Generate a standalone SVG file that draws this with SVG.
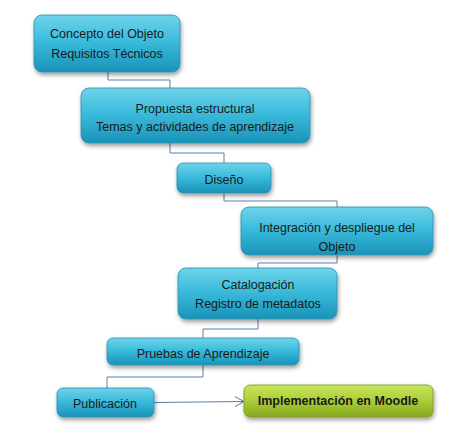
<svg xmlns="http://www.w3.org/2000/svg" width="449" height="441" viewBox="0 0 449 441">
<defs>
<linearGradient id="blue" x1="0" y1="0" x2="0" y2="1">
<stop offset="0" stop-color="#6fd3ea"/>
<stop offset="0.45" stop-color="#3bbcdc"/>
<stop offset="1" stop-color="#1a93b8"/>
</linearGradient>
<linearGradient id="green" x1="0" y1="0" x2="0" y2="1">
<stop offset="0" stop-color="#c9e55a"/>
<stop offset="0.45" stop-color="#aed03a"/>
<stop offset="1" stop-color="#86a81e"/>
</linearGradient>
<filter id="sh" x="-20%" y="-20%" width="140%" height="160%">
<feDropShadow dx="1" dy="2.5" stdDeviation="2" flood-color="#000" flood-opacity="0.4"/>
</filter>
<marker id="arr" markerWidth="12" markerHeight="12" refX="10" refY="6" orient="auto" markerUnits="userSpaceOnUse">
<path d="M1,1 L10,6 L1,11" fill="none" stroke="#5a7fa8" stroke-width="1"/>
</marker>
</defs>
<style>
.b{fill:url(#blue);stroke:#2a8fae;stroke-width:0.8;filter:url(#sh)}
.g{fill:url(#green);stroke:#7a9820;stroke-width:0.8;filter:url(#sh)}
.t{font-family:"Liberation Sans",Arial,sans-serif;font-size:12.5px;fill:#1a1a1a;text-anchor:middle}
.tb{font-family:"Liberation Sans",Arial,sans-serif;font-size:12.5px;font-weight:bold;fill:#1a1a1a;text-anchor:middle}
.c{fill:none;stroke:#5a7fa8;stroke-width:1}
</style>
<rect width="449" height="441" fill="#fff"/>
<g id="connectors">
<polyline class="c" points="108,72 108,80 170,80 170,88"/>
<polyline class="c" points="170,143 170,153 224,153 224,163"/>
<polyline class="c" points="224,193 224,201 337,201 337,207"/>
<polyline class="c" points="337,255 337,263 258,263 258,268"/>
<polyline class="c" points="258,319 258,329 203,329 203,338"/>
<polyline class="c" points="203,365 203,377 107,377 107,388"/>
<line class="c" x1="154" y1="402.5" x2="244" y2="401.5" marker-end="url(#arr)"/>
</g>
<g id="n1"><rect class="b" x="34" y="15" width="146" height="57" rx="8"/>
<text class="t" x="107" y="38">Concepto del Objeto</text>
<text class="t" x="107" y="58">Requisitos Técnicos</text></g>
<g id="n2"><rect class="b" x="81" y="88" width="229" height="55" rx="8"/>
<text class="t" x="195" y="113">Propuesta estructural</text>
<text class="t" x="195" y="131">Temas y actividades de aprendizaje</text></g>
<g id="n3"><rect class="b" x="177" y="163" width="94" height="30" rx="6"/>
<text class="t" x="224" y="183.5">Diseño</text></g>
<g id="n4"><rect class="b" x="241" y="207" width="192" height="48" rx="8"/>
<text class="t" x="337" y="231.5">Integración y despliegue del</text>
<text class="t" x="337" y="251">Objeto</text></g>
<g id="n5"><rect class="b" x="178" y="268" width="159" height="51" rx="8"/>
<text class="t" x="258" y="288.5">Catalogación</text>
<text class="t" x="258" y="307.5">Registro de metadatos</text></g>
<g id="n6"><rect class="b" x="107" y="338" width="192" height="27" rx="6"/>
<text class="t" x="203" y="357.5">Pruebas de Aprendizaje</text></g>
<g id="n7"><rect class="b" x="57" y="388" width="97" height="29" rx="6"/>
<text class="t" x="105" y="407.5">Publicación</text></g>
<g id="n8"><rect class="g" x="244" y="385" width="189" height="32" rx="6"/>
<text class="tb" x="338" y="404.5">Implementación en Moodle</text></g>
</svg>
